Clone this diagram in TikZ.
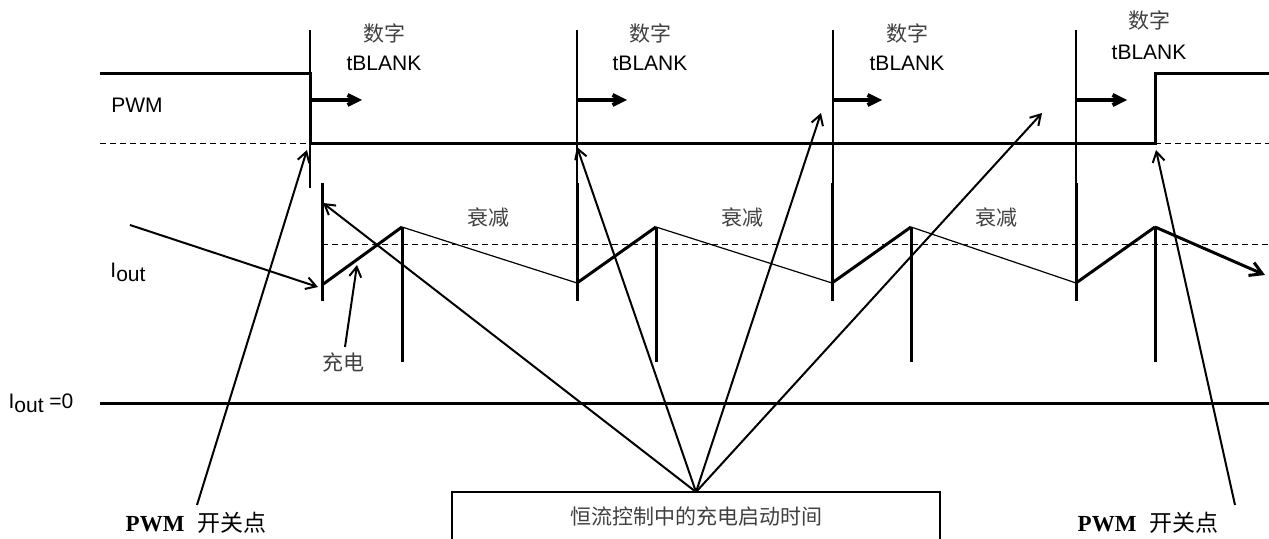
\documentclass[tikz,border=0pt]{standalone}
\usepackage{fontspec}
\setmainfont{Liberation Sans}
\newfontfamily\cjk{Noto Sans CJK SC}
\newfontfamily\tnr{Liberation Serif}
\usetikzlibrary{arrows.meta}
\begin{document}
\begin{tikzpicture}[x=0.5pt,y=-0.5pt,
  wave/.style={line width=1.5pt},
  thinline/.style={line width=0.6pt},
  refline/.style={line width=0.5pt,dash pattern=on 3pt off 2pt},
  pointer/.style={line width=1pt,-{Straight Barb[length=5pt,width=6pt]}},
  blankarrow/.style={line width=2pt,-{Straight Barb[length=5pt,width=5pt]}},
  lbl/.style={font=\fontsize{10.5}{12}\selectfont,inner sep=0pt},
  cjklbl/.style={font=\fontsize{10.5}{12}\selectfont\cjk,inner sep=0pt,text=black!75},
  swlbl/.style={font=\fontsize{11.5}{13}\selectfont,inner sep=0pt}
]
\useasboundingbox (0,0) rectangle (1269,539);

% PWM waveform
\draw[wave] (100,74) -- (310,74) -- (310,144) -- (1155,144) -- (1155,74) -- (1269,74);
\draw[refline] (100,144) -- (310,144);
\draw[refline] (1155,144) -- (1269,144);

% tBLANK markers
\foreach \x/\n in {310/a,577/b,833/c,1076/d}{
  \draw[thinline] (\x,30) -- (\x,188);
  \coordinate (bs\n) at (\x,100);
}
\coordinate (bea) at (362,100);
\coordinate (beb) at (627,100);
\coordinate (bec) at (882,100);
\coordinate (bed) at (1127,100);
\foreach \n in {a,b,c,d}{\draw[blankarrow] (bs\n) -- (be\n);}

\node[cjklbl] (dz1) at (384,33) {数字};
\node[lbl] (tb1) at (384,63) {tBLANK};
\node[cjklbl] (dz2) at (650,33) {数字};
\node[lbl] (tb2) at (650,63) {tBLANK};
\node[cjklbl] (dz3) at (907,33) {数字};
\node[lbl] (tb3) at (907,63) {tBLANK};
\node[cjklbl] (dz4) at (1149,20) {数字};
\node[lbl] (tb4) at (1149,52) {tBLANK};

\node[lbl] (pwm) at (137,105) {PWM};

% Iout waveform
\draw[refline] (322,245) -- (1269,245);
\foreach \x in {322,577,832,1076}{\draw[wave] (\x,183) -- (\x,301);}
\foreach \x in {402,656,911,1155}{\draw[wave] (\x,227) -- (\x,362);}
\coordinate (s1) at (322,285);
\coordinate (p1) at (402,227);
\coordinate (s2) at (577,283);
\coordinate (p2) at (656,227);
\coordinate (s3) at (832,283);
\coordinate (p3) at (911,227);
\coordinate (s4) at (1076,283);
\coordinate (p4) at (1155,227);
\coordinate (tail) at (1265,275);
\draw[wave] (s1) -- (p1);
\draw[wave] (s2) -- (p2);
\draw[wave] (s3) -- (p3);
\draw[wave] (s4) -- (p4);
\draw[thinline] (p1) -- (s2);
\draw[thinline] (p2) -- (s3);
\draw[thinline] (p3) -- (s4);
\draw[line width=1.5pt,-{Straight Barb[length=6pt,width=7pt]}] (p4) -- (tail);

\node[cjklbl] (sj1) at (488,218) {衰减};
\node[cjklbl] (sj2) at (742,218) {衰减};
\node[cjklbl] (sj3) at (996,218) {衰减};

\node[lbl] (iout) at (128,272) {I\raisebox{-0.35ex}{out}};
\node[lbl] (iout0) at (41,403) {I\raisebox{-0.35ex}{out} =0};
\draw[wave] (100,404) -- (1269,404);

% input arrow and charge label
\coordinate (in0) at (130,225);
\coordinate (in1) at (318,287);
\draw[pointer] (in0) -- (in1);
\node[cjklbl] (cd) at (343,362) {充电};
\coordinate (cd0) at (345,347);
\coordinate (cd1) at (357,265);
\draw[pointer] (cd0) -- (cd1);

% switching points
\node[swlbl] (swl) at (196,523) {{\tnr\bfseries PWM}\ \ {\cjk 开关点}};
\node[swlbl] (swr) at (1148,523) {{\tnr\bfseries PWM}\ \ {\cjk 开关点}};
\coordinate (swl0) at (197,505);
\coordinate (swl1) at (307,150);
\coordinate (swr0) at (1235,505);
\coordinate (swr1) at (1156,150);
\draw[pointer] (swl0) -- (swl1);
\draw[pointer] (swr0) -- (swr1);

% box and converging arrows
\node[cjklbl] (box) at (696,516) {恒流控制中的充电启动时间};
\coordinate (conv) at (696,492);
\draw[thinline] (452,545) -- (452,492) -- (940,492) -- (940,545);
\coordinate (t1) at (323,203);
\coordinate (t2) at (577,147);
\coordinate (t3) at (821,113);
\coordinate (t4) at (1042,113);
\foreach \t in {t1,t2,t3,t4}{\draw[pointer] (conv) -- (\t);}
\end{tikzpicture}
\end{document}
